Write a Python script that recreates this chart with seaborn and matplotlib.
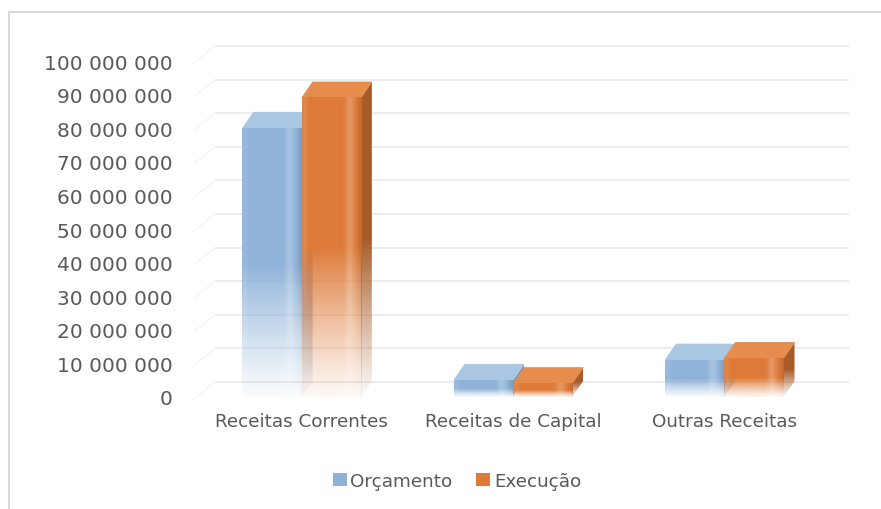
import numpy as np
import pandas as pd
import matplotlib
matplotlib.use("Agg")
import matplotlib.pyplot as plt
import seaborn as sns
from matplotlib.patches import Polygon, Patch
from matplotlib.lines import Line2D
from matplotlib.ticker import FuncFormatter
from matplotlib.colors import to_rgb

# ---- data -------------------------------------------------------------
categorias = ["Receitas Correntes", "Receitas de Capital", "Outras Receitas"]
series = ["Orçamento", "Execução"]
orcamento = [80_000_000, 5_000_000, 11_000_000]
execucao = [89_000_000, 4_000_000, 11_500_000]
yticks = [0, 10_000_000, 20_000_000, 30_000_000, 40_000_000, 50_000_000,
          60_000_000, 70_000_000, 80_000_000, 90_000_000, 100_000_000]

df = pd.DataFrame({
    "categoria": categorias * 2,
    "serie": [series[0]] * len(categorias) + [series[1]] * len(categorias),
    "valor": orcamento + execucao,
})

# ---- style ------------------------------------------------------------
sns.set_theme(style="white")
plt.rcParams["font.family"] = ["DejaVu Sans"]
TXT = "#595959"
GRID = "#EAEAEA"
colors = {"Orçamento": "#8EB2D8", "Execução": "#DE7A38"}
tops = {"Orçamento": "#A9C6E3", "Execução": "#E68D4E"}
sides = {"Orçamento": "#7096BE", "Execução": "#A95B27"}

W, H = 881, 510
fig = plt.figure(figsize=(W / 100, H / 100), dpi=100)
fig.patch.set_facecolor("white")
ax = fig.add_axes([196 / W, (H - 398) / H, (830 - 196) / W, (398 - 62) / H])

sns.barplot(data=df, x="categoria", y="valor", hue="serie", palette=colors,
            width=0.56, saturation=1, legend=False, ax=ax)
ax.set_xlim(-0.5, len(categorias) - 0.5)
ax.set_ylim(0, yticks[-1])
ax.set_yticks(yticks)
ax.yaxis.set_major_formatter(FuncFormatter(lambda v, _: f"{int(v):,}".replace(",", " ")))
ax.set_xlabel("")
ax.set_ylabel("")
ax.tick_params(axis="y", length=0, pad=17, labelsize=14.5, labelcolor=TXT)
ax.tick_params(axis="x", length=0, pad=11, labelsize=13.2, labelcolor=TXT)
for s in ax.spines.values():
    s.set_visible(False)
ax.grid(False)
ax.patch.set_alpha(0)

DPI_SCALE = fig.dpi / 100.0


def shifted(x, y, dx, dy):
    """Data point moved by (dx, dy) pixels on screen, returned in data coords."""
    d = ax.transData.transform((x, y)) + np.array([dx, dy]) * DPI_SCALE
    return ax.transData.inverted().transform(d)


# ---- back wall gridlines and side-wall diagonals ----------------------
WALL_DX, WALL_DY = 19, 15
x_left, x_right = ax.get_xlim()
for v in yticks:
    p0 = shifted(x_left, v, WALL_DX, WALL_DY)
    p1 = shifted(x_right, v, WALL_DX, WALL_DY)
    ax.plot([p0[0], p1[0]], [p0[1], p1[1]], color=GRID, lw=1.2, zorder=0.5,
            clip_on=False, solid_capstyle="butt")
    f0 = shifted(x_left, v, -2, -2)
    ax.plot([f0[0], p0[0]], [f0[1], p0[1]], color="#F0F0F0", lw=0.7, zorder=0.5,
            clip_on=False)


# ---- 3D shaded columns --------------------------------------------------
def face_image(base, ny=300, nx=90, highlight=True, fade_start=0.5):
    c = np.array(to_rgb(base))
    u = np.linspace(0, 1, nx)[None, :]
    t = np.linspace(0, 1, ny)[:, None]
    rgb = np.repeat(np.repeat(c[None, None, :], ny, 0), nx, 1)
    if highlight:
        light = 0.22 * np.exp(-((u - 0.80) / 0.07) ** 2) + 0.10 * np.exp(-((u - 0.04) / 0.05) ** 2)
        dark = 0.14 * np.clip((u - 0.88) / 0.12, 0, 1) ** 1.5
        light = np.broadcast_to(light, (ny, nx))
        dark = np.broadcast_to(dark, (ny, nx))
        rgb = rgb + (1 - rgb) * light[..., None]
        rgb = rgb * (1 - dark[..., None])
    ramp = np.clip(t / fade_start, 0, 1)
    alpha = 0.05 + 0.95 * (ramp ** 1.15)
    alpha = np.broadcast_to(alpha, (ny, nx))
    return np.dstack([np.clip(rgb, 0, 1), alpha])


BAR_DX, BAR_DY = 11, 16
n = len(categorias)
patches = list(ax.patches)
for i, p in enumerate(patches):
    serie = series[i // n]
    x0, w, h = p.get_x(), p.get_width(), p.get_height()
    x1 = x0 + w
    p.set_visible(False)
    z = 2 + (i // n) * 0.5

    # right side face
    pts = [(x1, 0), (x1, h), tuple(shifted(x1, h, BAR_DX, BAR_DY)), tuple(shifted(x1, 0, BAR_DX, BAR_DY))]
    side = Polygon(pts, closed=True, facecolor="none", edgecolor="none", zorder=z)
    ax.add_patch(side)
    xs = [q[0] for q in pts]
    ys = [q[1] for q in pts]
    im = ax.imshow(face_image(sides[serie], highlight=False), origin="lower", aspect="auto",
                   extent=(min(xs), max(xs), 0, max(ys)), zorder=z, interpolation="bilinear")
    im.set_clip_path(side)

    # top face
    tp = [(x0, h), (x1, h), tuple(shifted(x1, h, BAR_DX, BAR_DY)), tuple(shifted(x0, h, BAR_DX, BAR_DY))]
    ax.add_patch(Polygon(tp, closed=True, facecolor=tops[serie], edgecolor=tops[serie],
                         lw=0.5, zorder=z + 0.1, joinstyle="round"))

    # front face
    ax.imshow(face_image(colors[serie]), origin="lower", aspect="auto",
              extent=(x0, x1, 0, h), zorder=z + 0.2, interpolation="bilinear")

ax.set_xlim(x_left, x_right)
ax.set_ylim(0, yticks[-1])

# ---- legend -------------------------------------------------------------
handles = [Patch(facecolor=colors[s], edgecolor="none", label=s) for s in series]
fig.legend(handles=handles, loc="center", bbox_to_anchor=(457 / W, (H - 482) / H),
           ncol=2, frameon=False, fontsize=13.2, labelcolor=TXT,
           handlelength=0.75, handleheight=0.75, handletextpad=0.2, columnspacing=1.3)

# ---- chart-area border --------------------------------------------------
fig.add_artist(Line2D([8.5 / W, 1], [1 - 12.5 / H] * 2, transform=fig.transFigure,
                      color="#D9D9D9", lw=1.5))
fig.add_artist(Line2D([8.5 / W] * 2, [0, 1 - 12.5 / H], transform=fig.transFigure,
                      color="#D9D9D9", lw=1.5))

fig.savefig("out.png", dpi=100, facecolor="white")
